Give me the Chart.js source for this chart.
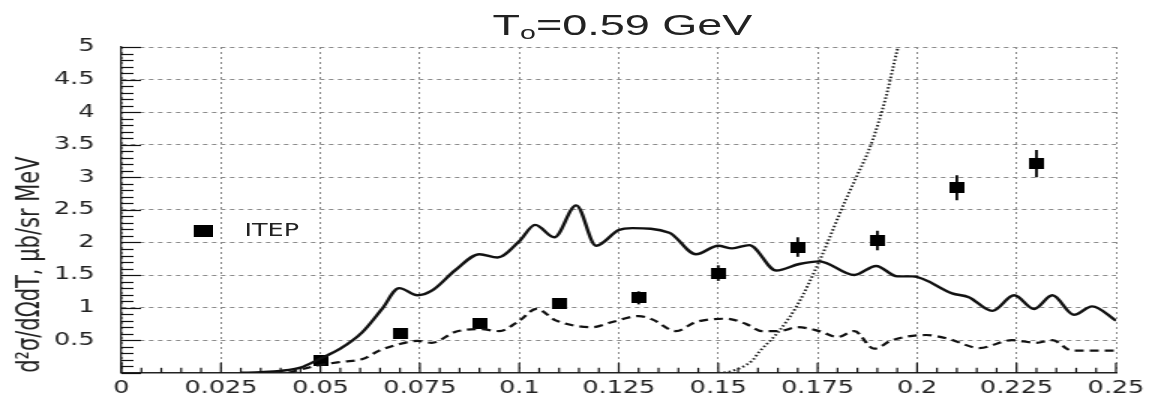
<!DOCTYPE html>
<html>
<head>
<meta charset="utf-8">
<script src="https://cdn.jsdelivr.net/npm/chart.js@4"></script>
<style>
  html, body { margin: 0; padding: 0; background: #fff; overflow: hidden; }
  /* the original plot is stretched sideways, so draw at 766px and stretch 1.5x */
  #wrap { position: relative; width: 766px; height: 401px; transform: scaleX(1.5); transform-origin: 0 0; }
  #title { position: absolute; left: 0; top: 10px; width: 830px; text-align: center;
           font: 30px/30px "Liberation Sans", Arial, sans-serif; color: #222; white-space: nowrap; }
  #title sub { font-size: 19px; vertical-align: -4px; line-height: 0; }
  #legBox { position: absolute; left: 129px; top: 225px; width: 13px; height: 12px; background: #000; }
  #legText { position: absolute; left: 163px; top: 222px; font: 17px/17px "DejaVu Sans", sans-serif; color: #222; }
</style>
</head>
<body>
<div id="wrap">
  <canvas id="myChart" width="766" height="401"></canvas>
  <div id="title">T<sub>o</sub>=0.59 GeV</div>
  <div id="legBox"></div>
  <div id="legText">ITEP</div>
</div>
<script>
// solid curve
var solidT = [0.030, 0.035, 0.040, 0.045, 0.050, 0.055, 0.0605, 0.0655, 0.0698, 0.0744, 0.078, 0.084,
  0.090, 0.0945, 0.100, 0.104, 0.1088, 0.1143, 0.1193, 0.125, 0.1284, 0.1377, 0.1444, 0.150, 0.1535,
  0.1578, 0.1646, 0.1704, 0.1754, 0.1842, 0.1897, 0.195, 0.1988, 0.2088, 0.213, 0.2189, 0.2244,
  0.2294, 0.234, 0.2394, 0.244, 0.250];
var solidSigma = [0.0, 0.01, 0.03, 0.08, 0.22, 0.37, 0.62, 0.98, 1.30, 1.19, 1.26, 1.58,
  1.82, 1.77, 2.02, 2.27, 2.08, 2.57, 1.95, 2.19, 2.22, 2.15, 1.82, 1.95, 1.91,
  1.96, 1.57, 1.67, 1.71, 1.50, 1.64, 1.48, 1.48, 1.22, 1.16, 0.95, 1.19,
  0.98, 1.19, 0.89, 1.02, 0.80];

// dashed curve
var dashedT = [0.042, 0.045, 0.050, 0.0555, 0.0606, 0.0648, 0.0698, 0.0744, 0.078, 0.084, 0.090, 0.095,
  0.100, 0.1043, 0.1093, 0.1183, 0.1234, 0.130, 0.1334, 0.1394, 0.1444, 0.152, 0.157, 0.161, 0.1653,
  0.170, 0.1754, 0.180, 0.1842, 0.1892, 0.1937, 0.2022, 0.208, 0.2156, 0.2239, 0.2299, 0.234, 0.239, 0.250];
var dashedSigma = [0.0, 0.05, 0.12, 0.17, 0.21, 0.34, 0.44, 0.49, 0.46, 0.63, 0.67, 0.64,
  0.80, 0.98, 0.80, 0.70, 0.78, 0.87, 0.82, 0.64, 0.78, 0.83, 0.75, 0.64, 0.64,
  0.70, 0.64, 0.55, 0.64, 0.37, 0.50, 0.58, 0.52, 0.38, 0.50, 0.46, 0.50, 0.34, 0.34];

// dotted curve
var dottedT = [0.150, 0.153, 0.1586, 0.1603, 0.1653, 0.170, 0.1754, 0.1821, 0.1847, 0.1884, 0.1922, 0.195, 0.1956];
var dottedSigma = [0.0, 0.02, 0.19, 0.32, 0.64, 1.05, 1.71, 2.66, 3.00, 3.50, 4.24, 4.95, 5.08];

// ITEP data
var itepT = [0.05, 0.07, 0.09, 0.11, 0.13, 0.15, 0.17, 0.19, 0.21, 0.23];
var itepSigma = [0.19, 0.60, 0.75, 1.06, 1.15, 1.53, 1.93, 2.03, 2.84, 3.21];
var itepErr = [0.04, 0.05, 0.06, 0.08, 0.10, 0.12, 0.15, 0.15, 0.19, 0.21];

var xTickLabels = ["0", "0.025", "0.05", "0.075", "0.1", "0.125", "0.15", "0.175", "0.2", "0.225", "0.25"];
var yTickLabels = ["", "0.5", "1", "1.5", "2", "2.5", "3", "3.5", "4", "4.5", "5"];

function pairs(xs, ys) {
  return xs.map(function (x, i) { return { x: x, y: ys[i] }; });
}

// black marker, a bit wider than tall like the original
var marker = document.createElement("canvas");
marker.width = 10;
marker.height = 11;
var mctx = marker.getContext("2d");
mctx.fillStyle = "#000";
mctx.fillRect(0, 0, 10, 11);

// vertical error bars for ITEP points
var errorBars = {
  id: "errorBars",
  beforeDatasetsDraw: function (chart) {
    var ctx = chart.ctx, x = chart.scales.x, y = chart.scales.y;
    ctx.save();
    ctx.strokeStyle = "#000";
    ctx.lineWidth = 1.8;
    for (var i = 0; i < itepT.length; i++) {
      var px = x.getPixelForValue(itepT[i]);
      ctx.beginPath();
      ctx.moveTo(px, y.getPixelForValue(itepSigma[i] - itepErr[i]));
      ctx.lineTo(px, y.getPixelForValue(itepSigma[i] + itepErr[i]));
      ctx.stroke();
    }
    ctx.restore();
  }
};

// inward major/minor tick marks like the ROOT frame
var innerTicks = {
  id: "innerTicks",
  beforeDatasetsDraw: function (chart) {
    var ctx = chart.ctx, x = chart.scales.x, y = chart.scales.y, a = chart.chartArea;
    ctx.save();
    ctx.strokeStyle = "#111";
    ctx.lineWidth = 1.2;
    for (var k = 0; k <= 50; k++) {
      var px = x.getPixelForValue(k * 0.005);
      var len = k % 5 === 0 ? 10 : 5;
      ctx.beginPath();
      ctx.moveTo(px, a.bottom);
      ctx.lineTo(px, a.bottom - len);
      ctx.stroke();
    }
    ctx.lineWidth = 1.2;
    for (var j = 0; j <= 50; j++) {
      var py = Math.round(y.getPixelForValue(j * 0.1)) + 0.5;
      var l = j % 5 === 0 ? 13 : 8;
      ctx.beginPath();
      ctx.moveTo(a.left, py);
      ctx.lineTo(a.left + l, py);
      ctx.stroke();
    }
    ctx.restore();
  }
};

var tickFont = { family: "DejaVu Sans", size: 17 };

var ctx = document.getElementById("myChart").getContext("2d");
var chart = new Chart(ctx, {
  type: "scatter",
  data: {
    datasets: [
      {
        label: "solid",
        data: pairs(solidT, solidSigma),
        showLine: true,
        borderColor: "#111",
        borderWidth: 2.4,
        pointRadius: 0,
        cubicInterpolationMode: "monotone"
      },
      {
        label: "dashed",
        data: pairs(dashedT, dashedSigma),
        showLine: true,
        borderColor: "#111",
        borderWidth: 2.2,
        borderDash: [6, 4],
        pointRadius: 0,
        cubicInterpolationMode: "monotone"
      },
      {
        label: "dotted",
        data: pairs(dottedT, dottedSigma),
        showLine: true,
        borderColor: "#222",
        borderWidth: 2,
        borderDash: [1.5, 2],
        pointRadius: 0,
        cubicInterpolationMode: "monotone"
      },
      {
        label: "ITEP",
        data: pairs(itepT, itepSigma),
        pointStyle: marker,
        pointRadius: 6,
        showLine: false
      }
    ]
  },
  options: {
    responsive: false,
    animation: false,
    devicePixelRatio: 1,
    layout: { padding: { top: 47, right: 22, left: 0, bottom: 0 } },
    plugins: {
      legend: { display: false },
      title: { display: false },
      tooltip: { enabled: false }
    },
    scales: {
      x: {
        type: "linear",
        position: "bottom",
        min: 0,
        max: 0.25,
        afterFit: function (scale) {
          scale.height = 27;
          scale.paddingLeft = 0;
          scale.paddingRight = 0;
        },
        ticks: {
          stepSize: 0.025,
          autoSkip: false,
          maxRotation: 0,
          padding: 6,
          color: "#222",
          font: tickFont,
          callback: function (v, i) { return xTickLabels[i]; }
        },
        grid: { color: "#8a8a8a", lineWidth: 1, drawTicks: false },
        border: { display: true, color: "#222", width: 1.4, dash: [2, 3] }
      },
      y: {
        type: "linear",
        position: "left",
        min: 0,
        max: 5,
        afterFit: function (scale) { scale.width = 81; },
        ticks: {
          stepSize: 0.5,
          padding: 18,
          color: "#222",
          font: tickFont,
          callback: function (v, i) { return yTickLabels[i]; }
        },
        grid: { color: "#8a8a8a", lineWidth: 1, drawTicks: false },
        border: { display: true, color: "#222", width: 1.3, dash: [3, 3] },
        title: {
          display: true,
          text: "d\u00b2\u03c3/d\u03a9dT, \u03bcb/sr MeV",
          align: "start",
          color: "#222",
          font: { family: "DejaVu Sans", size: 21 },
          padding: { top: 8, bottom: 0 }
        }
      }
    }
  },
  plugins: [errorBars, innerTicks]
});
</script>
</body>
</html>
